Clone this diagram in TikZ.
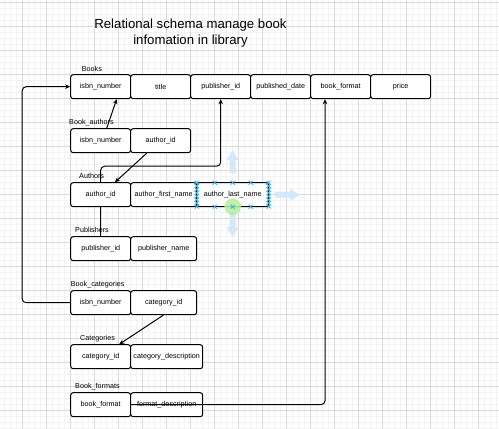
\documentclass[tikz,border=0pt]{standalone}
\usepackage{fontspec}
\setmainfont{Liberation Sans}
\usetikzlibrary{arrows.meta}
\definecolor{gridmajor}{HTML}{DADADA}
\definecolor{gridminor}{HTML}{F3F3F3}
\definecolor{handle}{HTML}{29B6F2}
\definecolor{hint}{HTML}{D3E9FA}
\definecolor{hover}{HTML}{B6EE9A}
\pgfdeclarelayer{grid}
\pgfdeclarelayer{edges}
\pgfsetlayers{grid,edges,main}
\tikzset{
  field/.style={draw, fill=white, rounded corners=2.5pt, line width=1pt,
    minimum width=#1, minimum height=24pt, inner sep=0pt,
    font=\fontsize{7.2}{8.6}\selectfont},
  field/.default=60pt,
  tbl/.style={anchor=west, inner sep=0pt, font=\fontsize{7.2}{8.6}\selectfont},
  fk/.style={line width=1pt, -{Stealth[length=5pt,width=4.5pt]}},
  hnd/.style={handle, line width=0.8pt}
}

\begin{document}
\begin{tikzpicture}[x=1pt, y=-1pt]
        \useasboundingbox (0,0) rectangle (499,429);
        % grid of the editor
        \begin{pgfonlayer}{grid}
        \fill[white] (0,0) rectangle (499,429);
        \foreach \gx in {4.7,10.7,...,499} \draw[gridminor, line width=0.6pt] (\gx,0) -- (\gx,429);
        \foreach \gy in {2.7,8.7,...,429} \draw[gridminor, line width=0.6pt] (0,\gy) -- (499,\gy);
        \foreach \gx in {22.7,46.7,...,499} \draw[gridmajor, line width=0.8pt] (\gx,0) -- (\gx,429);
        \foreach \gy in {2.7,26.7,...,429} \draw[gridmajor, line width=0.8pt] (0,\gy) -- (499,\gy);
        \end{pgfonlayer}

        \node[align=center, font=\fontsize{13.2}{16}\selectfont] (title) at (190.5,33) {Relational schema manage book\\infomation in library};

        % tables
        \node[tbl] (lbooks) at (81.7,68.7) {Books};
        \path (100.7,86.7) node[field] (bisbn) {isbn\_number} (160.7,86.7) node[field] (btitle) {title}
              (220.7,86.7) node[field] (bpub) {publisher\_id} (280.7,86.7) node[field] (bdate) {published\_date}
              (340.7,86.7) node[field] (bfmt) {book\_format} (400.7,86.7) node[field] (bprice) {price};

        \node[tbl] (lbookauthors) at (69,122.7) {Book\_authors};
        \path (100.7,140.7) node[field] (baisbn) {isbn\_number} (160.7,140.7) node[field] (baauth) {author\_id};

        \node[tbl] (lauthors) at (79,176.3) {Authors};
        \path (100.7,194.7) node[field] (aid) {author\_id} (163.7,194.7) node[field=66pt] (afirst) {author\_first\_name}
              (232.7,194.7) node[field=72pt] (alast) {author\_last\_name};

        \node[tbl] (lpublishers) at (75,230.3) {Publishers};
        \path (100.7,248.7) node[field] (pid) {publisher\_id} (163.7,248.7) node[field=66pt] (pname) {publisher\_name};

        \node[tbl] (lbookcats) at (70.7,284.7) {Book\_categories};
        \path (100.7,302.7) node[field] (bcisbn) {isbn\_number} (163.7,302.7) node[field=66pt] (bccat) {category\_id};

        \node[tbl] (lcats) at (80,338.7) {Categories};
        \path (100.7,356.7) node[field] (cid) {category\_id} (166.7,356.7) node[field=72pt] (cdesc) {category\_description};

        \node[tbl] (lbookfmts) at (75,386.7) {Book\_formats};
        \path (100.7,404.7) node[field] (bffmt) {book\_format} (166.7,404.7) node[field=72pt] (bfdesc) {format\_description};

        % foreign keys
        \draw[fk, rounded corners=4pt] (bcisbn.west) -- ++(-48,0) |- (bisbn.west);
        \draw[fk] ([xshift=6pt]baisbn.north) -- ([xshift=16pt]bisbn.south);
        \draw[fk] ([xshift=-14pt]baauth.south) -- ([xshift=14.3pt]aid.north);
        \begin{pgfonlayer}{edges}
        \draw[fk, rounded corners=4pt] (pid.north) -- ++(0,-70) -| (bpub.south);
        \end{pgfonlayer}
        \draw[fk] ([xshift=-0.4pt]bccat.south) -- ([xshift=18.6pt]cid.north);
        \draw[fk, rounded corners=4pt] (bffmt.east) -| ([xshift=-15.7pt]bfmt.south);

        % selection handles
        \fill[hint] (232.7,150) -- (238.7,160) -- (235.7,160) -- (235.7,173) -- (229.7,173) -- (229.7,160) -- (226.7,160) -- cycle;
        \fill[hint] (232.7,237) -- (238.7,227) -- (235.7,227) -- (235.7,212) -- (229.7,212) -- (229.7,227) -- (226.7,227) -- cycle;
        \fill[hint] (300,194.7) -- (290,188.7) -- (290,191.7) -- (275,191.7) -- (275,197.7) -- (290,197.7) -- (290,200.7) -- cycle;
        \fill[hover, opacity=0.85] (232.7,206.7) circle (8.3);
        \foreach \hy in {182.7,186.1,...,207} {
          \draw[hnd] (196.7,\hy) ++(-2,-2) -- ++(4,4) ++(-4,0) -- ++(4,-4);
          \draw[hnd] (268.7,\hy) ++(-2,-2) -- ++(4,4) ++(-4,0) -- ++(4,-4);
        }
        \foreach \hx in {214.7,232.7,250.7} \foreach \hy in {182.7,206.7}
          \draw[hnd] (\hx,\hy) ++(-2,-2) -- ++(4,4) ++(-4,0) -- ++(4,-4);
    \end{tikzpicture}
\end{document}
